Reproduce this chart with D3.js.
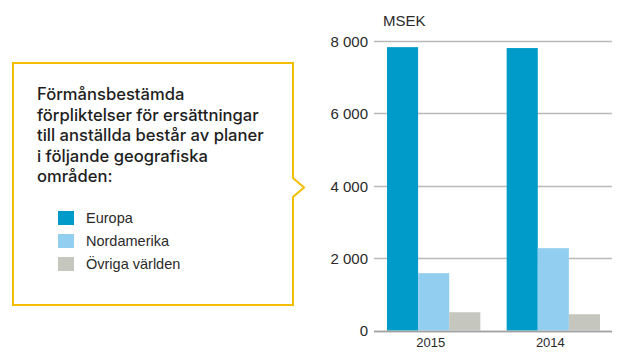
<!DOCTYPE html>
<html><head><meta charset="utf-8">
<script src="https://cdn.jsdelivr.net/npm/d3@7"></script>
<style>
html,body{margin:0;padding:0;background:#fff;}
svg{display:block;}
text{font-family:"Liberation Sans","Helvetica Neue",Arial,sans-serif;}
</style></head>
<body>
<svg id="chart" width="617" height="353"></svg>
<script>
// Defined-benefit obligations by region, MSEK
const years = ["2015", "2014"];
const regions = ["Europa", "Nordamerika", "Övriga världen"];
const europa = [7830, 7805];
const nordamerika = [1585, 2275];
const ovriga = [505, 450];
const yTicks = [0, 2000, 4000, 6000, 8000];
const colors = ["#009bc8", "#92cef0", "#c5c7bf"];
const introLines = [
  "Förmånsbestämda",
  "förpliktelser för ersättningar",
  "till anställda består av planer",
  "i följande geografiska",
  "områden:"
];

const series = [europa, nordamerika, ovriga];
const svg = d3.select("#chart");

// Callout box with a pointer towards the chart
const box = {x0: 13, y0: 63, x1: 293, y1: 305};
const arrow = {top: 178, bottom: 197, tipX: 304, tipY: 187.5};
svg.append("path")
  .attr("d", `M${box.x0},${box.y0}H${box.x1}V${arrow.top}L${arrow.tipX},${arrow.tipY}L${box.x1},${arrow.bottom}V${box.y1}H${box.x0}Z`)
  .attr("fill", "none")
  .attr("stroke", "#f6be00")
  .attr("stroke-width", 2);

svg.append("g").selectAll("text")
  .data(introLines)
  .join("text")
  .attr("x", 37)
  .attr("y", (d, i) => 100 + i * 20.5)
  .attr("font-size", 16.6)
  .attr("font-weight", 500)
  .attr("fill", "#1e1e1e")
  .style("font-family", "Inter, 'Liberation Sans', sans-serif")
  .text(d => d);

const legend = svg.append("g").selectAll("g")
  .data(regions)
  .join("g")
  .attr("transform", (d, i) => `translate(58,${211 + i * 23})`);
legend.append("rect")
  .attr("width", 16).attr("height", 14)
  .attr("fill", (d, i) => colors[i]);
legend.append("text")
  .attr("x", 28).attr("y", 12)
  .attr("font-size", 14.5)
  .attr("fill", "#2a2a2a")
  .text(d => d);

// Bar chart
const y = d3.scaleLinear().domain([0, 8000]).range([330.5, 41]);
const x0 = d3.scaleBand().domain(years).range([387, 600]).paddingInner(0.22);
const x1 = d3.scaleBand().domain(regions).range([0, x0.bandwidth()]);

const grid = svg.append("g");
grid.selectAll("line")
  .data(yTicks)
  .join("line")
  .attr("x1", 374).attr("x2", 612)
  .attr("y1", d => Math.round(y(d)) + 0.5)
  .attr("y2", d => Math.round(y(d)) + 0.5)
  .attr("stroke", "#b9b9b9")
  .attr("stroke-width", 1.3);

const yAxis = d3.axisLeft(y).tickValues(yTicks).tickSize(0).tickPadding(0)
  .tickFormat(d => d3.format(",")(d).replace(/,/g, "\u00a0"));
svg.append("g")
  .attr("transform", "translate(368,0)")
  .call(yAxis)
  .call(g => g.select(".domain").remove())
  .call(g => g.selectAll("text")
    .attr("font-size", 15)
    .attr("fill", "#2a2a2a")
    .attr("dy", "0.36em")
    .style("font-family", '"Liberation Sans","Helvetica Neue",Arial,sans-serif'));

svg.append("text")
  .attr("x", 383).attr("y", 26)
  .attr("font-size", 15)
  .attr("fill", "#2a2a2a")
  .text("MSEK");

const groups = svg.append("g").selectAll("g")
  .data(years)
  .join("g")
  .attr("transform", d => `translate(${x0(d)},0)`);
groups.selectAll("rect")
  .data((yr, yi) => regions.map((r, ri) => ({r, v: series[ri][yi], ri})))
  .join("rect")
  .attr("x", d => x1(d.r))
  .attr("width", x1.bandwidth())
  .attr("y", d => y(d.v))
  .attr("height", d => y(0) - y(d.v))
  .attr("fill", d => colors[d.ri]);

// Baseline redrawn over the bars
svg.append("line")
  .attr("x1", 374).attr("x2", 612)
  .attr("y1", Math.round(y(0)) + 0.5).attr("y2", Math.round(y(0)) + 0.5)
  .attr("stroke", "#a0a0a0").attr("stroke-width", 1.5);

const xAxis = d3.axisBottom(x0).tickSize(0).tickPadding(0);
svg.append("g")
  .attr("transform", "translate(-3,338)")
  .call(xAxis)
  .call(g => g.select(".domain").remove())
  .call(g => g.selectAll("text")
    .attr("font-size", 13)
    .attr("fill", "#2a2a2a")
    .attr("dy", "0.71em")
    .style("font-family", '"Liberation Sans","Helvetica Neue",Arial,sans-serif'));
</script>
</body></html>
